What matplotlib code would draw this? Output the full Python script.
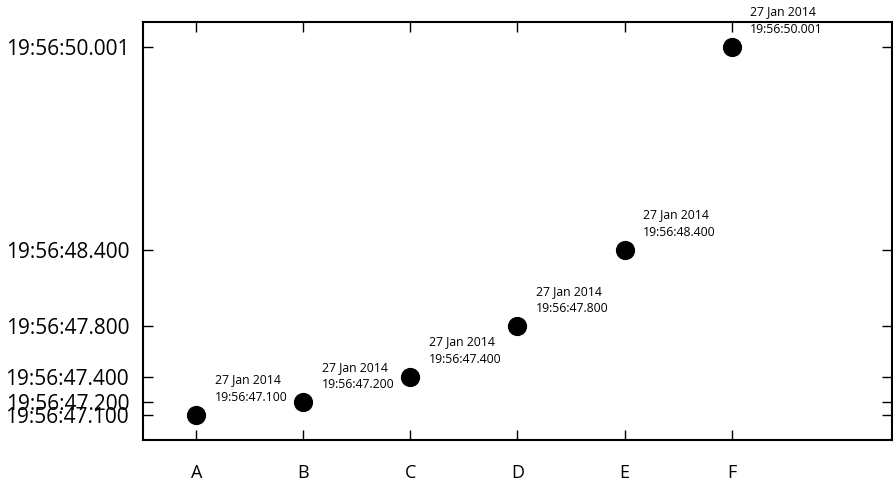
import matplotlib
matplotlib.use("Agg")
import matplotlib.pyplot as plt

categories = ["A", "B", "C", "D", "E", "F"]
dates = ["27 Jan 2014"] * 6
times = ["19:56:47.100", "19:56:47.200", "19:56:47.400", "19:56:47.800", "19:56:48.400", "19:56:50.001"]

def to_sec(t):
    h, m, s = t.split(":")
    return int(h) * 3600 + int(m) * 60 + float(s)

secs = [to_sec(t) for t in times]
xs = list(range(len(categories)))

plt.rcParams['font.family'] = ['Open Sans', 'DejaVu Sans']
fig = plt.figure(figsize=(8.93, 4.8), dpi=100)
ax = fig.add_axes([0.1601, 0.0833, 0.8388, 0.8709])

ax.scatter(xs, secs, s=165, color="black", zorder=3)
for x, y, d, t in zip(xs, secs, dates, times):
    ax.annotate(f"{d}\n{t}", (x, y), xytext=(13, 8), textcoords="offset points",
                fontsize=8.8, ha="left", va="bottom", linespacing=1.45)

ax.set_xlim(-0.5, 6.5)
pad = 0.197
ax.set_ylim(secs[0] - pad, secs[-1] + pad)
ax.set_xticks(xs)
ax.set_xticklabels(categories, fontsize=13)
ax.set_yticks(secs)
ax.set_yticklabels(times, fontsize=15)
ax.tick_params(axis="x", direction="in", top=True, bottom=True, length=7, width=1, pad=17)
ax.tick_params(axis="y", direction="in", left=True, right=True, length=7, width=1, pad=10)
for sp in ax.spines.values():
    sp.set_linewidth(1.5)

fig.savefig("out.png", dpi=100)
